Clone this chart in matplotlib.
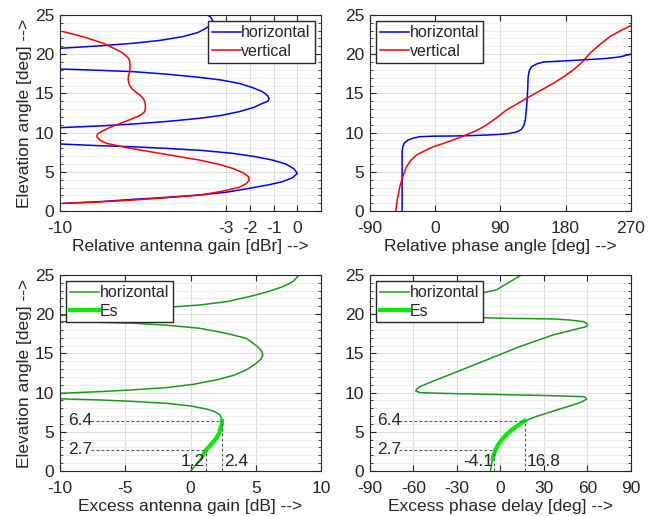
import matplotlib
matplotlib.use("Agg")
import matplotlib.pyplot as plt
from matplotlib.ticker import MultipleLocator

plt.rcParams['font.family'] = ['Liberation Sans', 'DejaVu Sans']
plt.rcParams['font.size'] = 12.5
plt.rcParams['axes.unicode_minus'] = False
plt.rcParams['text.color'] = '#262626'
plt.rcParams['axes.labelcolor'] = '#262626'
plt.rcParams['xtick.color'] = '#262626'
plt.rcParams['ytick.color'] = '#262626'

# ---- top left: relative antenna gain (dBr) vs elevation (deg)
gain_h = [-9.86, -8.3, -6.92, -5.5, -4.13, -3.0, -2.03, -1.2, -0.63, -0.2, 0.0, -0.15, -0.49,
          -1.05, -1.8, -2.73, -4.0, -5.52, -7.0, -8.32, -10.0,
          None,
          -10.0, -8.3, -6.92, -5.5, -4.13, -3.2, -2.45, -1.85, -1.47, -1.25, -1.19, -1.25, -1.47,
          -1.9, -2.45, -3.2, -4.13, -5.5, -6.92, -8.4, -10.0,
          None,
          -10.0, -8.4, -6.92, -5.8, -4.83, -4.2, -3.85, -3.62, -3.57, -3.65, -3.78]
elev_h = [0.98, 1.2, 1.49, 1.75, 2.04, 2.4, 2.89, 3.35, 3.74, 4.25, 4.8, 5.4, 6.0,
          6.5, 6.95, 7.36, 7.72, 7.99, 8.2, 8.33, 8.55,
          None,
          10.63, 10.85, 11.10, 11.42, 11.82, 12.2, 12.67, 13.2, 13.73, 14.0, 14.29, 14.7, 15.22,
          15.75, 16.28, 16.7, 17.05, 17.45, 17.77, 17.95, 18.11,
          None,
          20.75, 21.05, 21.39, 21.75, 22.24, 22.75, 23.3, 23.8, 24.28, 24.7, 25.0]
gain_v = [-9.86, -9.0, -8.18, -7.7, -7.34, -7.12, -7.06, -7.05, -7.06, -7.12, -7.13, -7.08,
          -6.99, -6.82, -6.64, -6.48, -6.41, -6.40, -6.43, -6.62, -6.92, -7.35, -7.76, -8.15,
          -8.39, -8.45, -8.43, -8.3, -8.04, -7.2, -6.22, -5.1, -4.13, -3.3, -2.73, -2.3,
          -2.06, -2.03, -2.15, -2.45, -3.2, -4.13, -5.5, -6.92, -8.4, -9.86]
elev_v = [22.87, 22.2, 21.39, 20.7, 20.11, 19.5, 19.05, 18.4, 17.77, 17.2, 16.71, 16.1,
          15.65, 15.2, 14.80, 14.3, 13.73, 13.2, 12.67, 12.2, 11.82, 11.3, 10.84, 10.3,
          9.91, 9.6, 9.40, 9.0, 8.63, 8.1, 7.57, 7.0, 6.50, 5.95, 5.44, 4.9,
          4.38, 3.95, 3.5, 3.02, 2.5, 2.04, 1.7, 1.40, 1.15, 0.98]

# ---- top right: relative phase angle (deg) vs elevation
phase_h = [-45.4, -45.4, -44.5, -42.0, -37.1, -30.0, -21.0, 0.0, 24.9, 50.0, 70.9, 90.0,
           103.1, 113.0, 119.0, 122.5, 124.5, 126.0, 127.0, 127.8, 128.4, 130.0, 133.0, 140.0,
           149.1, 180.0, 208.9, 235.0, 254.8, 270.0]
phase_h_el = [0.0, 7.6, 8.2, 8.7, 9.06, 9.3, 9.48, 9.55, 9.57, 9.62, 9.69, 9.78,
              9.9, 10.1, 10.4, 10.9, 11.6, 13.0, 14.2, 15.5, 17.1, 17.9, 18.4, 18.75,
              19.0, 19.15, 19.3, 19.45, 19.65, 20.0]
phase_v = [-54.1, -52.0, -48.6, -44.0, -39.4, -33.0, -25.6, -14.0, -2.6, 11.0, 24.9, 36.0,
           47.9, 60.0, 70.9, 85.0, 98.5, 112.0, 126.1, 145.0, 162.9, 177.0, 190.5, 202.0,
           213.4, 227.0, 241.0, 256.0, 270.0]
phase_v_el = [0.0, 1.5, 3.1, 4.5, 5.65, 6.5, 7.14, 7.7, 8.2, 8.6, 9.06, 9.45,
              9.9, 10.4, 10.97, 11.9, 12.88, 13.6, 14.37, 15.35, 16.28, 17.1, 17.98, 18.9,
              20.1, 21.2, 22.24, 23.0, 23.64]

# ---- bottom left: excess antenna gain (dB)
xgain = [0.01, 0.35, 0.70, 0.95, 1.2, 1.6, 1.97, 2.2, 2.3, 2.4, 2.4, 2.35, 2.23, 1.8, 1.21,
         0.0, -1.85, -4.5, -6.94, -10.0,
         None,
         -10.0, -6.94, -4.4, -1.85, 0.2, 1.97, 3.3, 4.27, 5.0, 5.41, 5.54, 5.45, 5.1, 4.27,
         2.6, 0.70, -1.9, -4.39, -7.2, -10.0,
         None,
         -10.0, -7.2, -4.39, -1.9, 0.7, 2.8, 4.52, 5.9, 7.07, 7.8, 8.22, 8.09]
xgain_el = [0.0, 0.7, 1.40, 2.0, 2.7, 3.45, 4.17, 4.85, 5.5, 6.0, 6.4, 6.8, 7.2, 7.6, 7.9,
            8.3, 8.63, 8.88, 9.06, 9.2,
            None,
            9.91, 10.12, 10.35, 10.63, 11.05, 11.61, 12.2, 12.88, 13.7, 14.3, 14.8, 15.3, 15.9,
            16.92, 17.6, 18.2, 18.6, 18.84, 18.97, 19.05,
            None,
            19.81, 20.2, 20.53, 20.85, 21.17, 21.6, 22.24, 22.85, 23.5, 24.1, 24.79, 25.0]
es_gain = [0.95, 1.2, 1.6, 1.97, 2.2, 2.3, 2.4, 2.4]
es_gain_el = [2.0, 2.7, 3.45, 4.17, 4.85, 5.5, 6.0, 6.4]

# ---- bottom right: excess phase delay (deg)
xdelay = [-6.78, -6.0, -4.94, -3.33, -1.5, 0.80, 4.0, 7.70, 12.0, 16.9, 24.0, 31.8, 41.0,
          50.2, 56.0, 59.4, 59.0, 57.1, 36.4, -9.5, -40.0, -55.5, -58.3, -57.5, -55.5, -45.0,
          -32.5, -9.5, 13.4, 36.4, 54.8, 58.5, 60.1, 59.5, 57.1, 48.0, 36.4, 1.95, -18.7,
          -45.0, -60.0, -45.0, -18.7, -2.6, 14.6]
xdelay_el = [0.0, 0.9, 1.83, 2.68, 3.35, 3.95, 4.6, 5.23, 5.8, 6.38, 6.9, 7.36, 7.9,
             8.42, 8.8, 9.14, 9.35, 9.48, 9.6, 9.78, 9.9, 10.0, 10.2, 10.45, 10.76, 11.55,
             12.46, 14.16, 15.86, 17.35, 18.2, 18.35, 18.55, 18.85, 19.05, 19.25, 19.39, 19.47, 19.6,
             19.8, 20.8, 21.8, 22.45, 23.1, 25.0]
es_delay = [-5.2, -4.94, -3.33, -1.5, 0.8, 4.0, 7.7, 12.0, 16.8]
es_delay_el = [1.6, 1.83, 2.68, 3.35, 3.95, 4.6, 5.23, 5.8, 6.4]

# annotation values
el_lo, el_hi = 2.7, 6.4
g_lo, g_hi = 1.2, 2.4
d_lo, d_hi = -4.1, 16.8


def style(ax, xlim, xticks):
    ax.set_xlim(xlim)
    ax.set_ylim(0, 25)
    ax.set_xticks(xticks)
    ax.set_yticks([0, 5, 10, 15, 20, 25])
    ax.yaxis.set_minor_locator(MultipleLocator(1))
    ax.grid(True, which='major', color='#dedede', lw=0.8)
    ax.grid(True, which='minor', axis='y', color='#eeeeee', lw=0.8)
    ax.set_axisbelow(True)
    ax.tick_params(which='both', direction='in', top=True, right=True)
    ax.tick_params(axis='x', pad=7.5)
    ax.tick_params(axis='y', pad=4)
    ax.tick_params(which='major', length=4)
    ax.tick_params(which='minor', length=2)
    for s in ax.spines.values():
        s.set_color('#262626')
        s.set_linewidth(0.8)


fig = plt.figure(figsize=(6.51, 5.16), dpi=100)
W, H = 0.401, 0.380
ax1 = fig.add_axes([0.0922, 0.591, W, H])
ax2 = fig.add_axes([0.568, 0.591, W, H])
ax3 = fig.add_axes([0.0922, 0.0872, W, H])
ax4 = fig.add_axes([0.568, 0.0872, W, H])

leg_kw = dict(fancybox=False, edgecolor='#262626', framealpha=1, borderpad=0.25,
              handlelength=1.8, handletextpad=0.05, labelspacing=0.2, borderaxespad=0.4,
              fontsize=11.5)

ax1.plot(gain_h, elev_h, color='#0000ff', lw=1.1, label='horizontal')
ax1.plot(gain_v, elev_v, color='#ff0000', lw=1.1, label='vertical')
style(ax1, (-10, 1), [-10, -3, -2, -1, 0])
ax1.set_xlabel('Relative antenna gain [dBr] -->', labelpad=1.5)
ax1.set_ylabel('Elevation angle [deg] -->', labelpad=2)
ax1.legend(loc='upper right', **leg_kw)

ax2.plot(phase_h, phase_h_el, color='#0000ff', lw=1.1, label='horizontal')
ax2.plot(phase_v, phase_v_el, color='#ff0000', lw=1.1, label='vertical')
style(ax2, (-90, 270), [-90, 0, 90, 180, 270])
ax2.set_xlabel('Relative phase angle [deg] -->', labelpad=1.5)
ax2.legend(loc='upper left', **leg_kw)

green = '#1a9a1a'
lime = '#00ee00'
dash = dict(color='#555555', ls=(0, (2.5, 2)), lw=0.8)

ax3.plot(xgain, xgain_el, color=green, lw=1.1, label='horizontal')
ax3.plot(es_gain, es_gain_el, color=lime, lw=3, label='Es')
ax3.plot([-7.6, g_hi], [el_hi, el_hi], **dash)
ax3.plot([-7.6, g_lo], [el_lo, el_lo], **dash)
ax3.plot([g_hi, g_hi], [0, el_hi], **dash)
ax3.plot([g_lo, g_lo], [0, el_lo], **dash)
ax3.text(-9.4, el_hi, '6.4', va='center', ha='left')
ax3.text(-9.4, el_lo, '2.7', va='center', ha='left')
ax3.text(g_lo - 0.1, 0.2, '1.2', va='bottom', ha='right')
ax3.text(g_hi + 0.2, 0.2, '2.4', va='bottom', ha='left')
style(ax3, (-10, 10), [-10, -5, 0, 5, 10])
ax3.set_xlabel('Excess antenna gain [dB] -->', labelpad=1.5)
ax3.set_ylabel('Elevation angle [deg] -->', labelpad=2)
ax3.legend(loc='upper left', **leg_kw)

ax4.plot(xdelay, xdelay_el, color=green, lw=1.1, label='horizontal')
ax4.plot(es_delay, es_delay_el, color=lime, lw=3, label='Es')
ax4.plot([-70, d_hi], [el_hi, el_hi], **dash)
ax4.plot([-70, d_lo], [el_lo, el_lo], **dash)
ax4.plot([d_hi, d_hi], [0, el_hi], **dash)
ax4.plot([d_lo, d_lo], [0, el_lo], **dash)
ax4.text(-85, el_hi, '6.4', va='center', ha='left')
ax4.text(-85, el_lo, '2.7', va='center', ha='left')
ax4.text(d_lo - 0.8, 0.2, '-4.1', va='bottom', ha='right')
ax4.text(d_hi + 1.5, 0.2, '16.8', va='bottom', ha='left')
style(ax4, (-90, 90), [-90, -60, -30, 0, 30, 60, 90])
ax4.set_xlabel('Excess phase delay [deg] -->', labelpad=1.5)
ax4.legend(loc='upper left', **leg_kw)

fig.savefig('out.png', dpi=100)
